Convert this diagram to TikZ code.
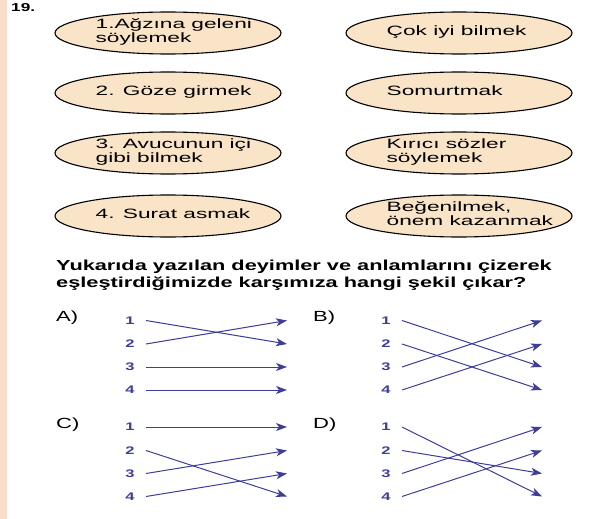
\documentclass[tikz,border=0pt]{standalone}
\usepackage{fontspec}
\setmainfont{Liberation Sans}
\usepackage{graphicx}
\usetikzlibrary{shapes.geometric,arrows.meta}
\definecolor{peach}{HTML}{FAE4C8}
\definecolor{stripc}{HTML}{FADCCB}
\definecolor{navy}{HTML}{3E3E98}
\newcommand\stx[1]{\scalebox{1.5}[1]{#1}}
\newcommand\tline[1]{\scalebox{1.68}[1]{\begin{tabular}{@{}l@{}}#1\end{tabular}}}
\begin{document}
\begin{tikzpicture}[x=1pt,y=-1pt,
  ell/.style={ellipse,draw=black,line width=1.1pt,fill=peach,minimum width=226pt,minimum height=42pt,inner sep=0pt},
  etxt/.style={anchor=west,inner sep=0pt,font=\fontsize{13.5}{14}\selectfont},
  qtxt/.style={anchor=west,inner sep=0pt,font=\bfseries\fontsize{14.5}{17}\selectfont},
  opt/.style={anchor=west,inner sep=0pt,font=\fontsize{14.7}{15}\selectfont},
  num/.style={inner sep=0pt,text=navy,font=\bfseries\fontsize{11}{11}\selectfont},
  arr/.style={draw=navy,line width=1pt,-{Stealth[length=11pt,width=8pt,inset=3pt]}}]
\useasboundingbox (0,0) rectangle (608,519);
\fill[stripc] (0,0) rectangle (7,519);
\node[anchor=west,inner sep=0pt,font=\bfseries\fontsize{11.5}{12}\selectfont] (q19) at (11,8) {\stx{19.}};
% ellipses
\foreach \i/\y in {1/33,2/93,3/153,4/216}{
  \node[ell] (l\i) at (168,\y) {};
  \node[ell] (r\i) at (459,\y) {};
}
\node[etxt] (lt1) at ([xshift=41pt]l1.west) {\tline{1.Ağzına geleni\\söylemek}};
\node[etxt] (lt2) at ([xshift=41pt]l2.west) {\tline{2. Göze girmek}};
\node[etxt] (lt3) at ([xshift=41pt]l3.west) {\tline{3. Avucunun içi\\gibi bilmek}};
\node[etxt] (lt4) at ([xshift=41pt]l4.west) {\tline{4. Surat asmak}};
\node[etxt] (rt1) at ([xshift=41pt]r1.west) {\tline{Çok iyi bilmek}};
\node[etxt] (rt2) at ([xshift=41pt]r2.west) {\tline{Somurtmak}};
\node[etxt] (rt3) at ([xshift=41pt]r3.west) {\tline{Kırıcı sözler\\söylemek}};
\node[etxt] (rt4) at ([xshift=41pt]r4.west) {\tline{Beğenilmek,\\önem kazanmak}};
% question
\node[qtxt] (q) at (56,275.5) {\stx{\begin{tabular}{@{}l@{}}Yukarıda yazılan deyimler ve anlamlarını çizerek\\eşleştirdiğimizde karşımıza hangi şekil çıkar?\end{tabular}}};
% option labels
\node[opt] (oa) at (56,318) {\stx{A)}};
\node[opt] (ob) at (313,318) {\stx{B)}};
\node[opt] (oc) at (56,425) {\stx{C)}};
\node[opt] (od) at (313,425) {\stx{D)}};
% panels
\foreach \pn/\nx/\sx/\ex/\yb in {a/130/146/287/320.5, b/386/402/542/320.5, c/130/146/287/427, d/386/402/542/427}{
  \foreach \i/\dy in {1/0,2/23.5,3/46.5,4/69.5}{
    \node[num] (\pn n\i) at (\nx,\yb+\dy) {\stx{\i}};
    \coordinate (\pn s\i) at (\sx,\yb+\dy);
    \coordinate (\pn e\i) at (\ex,\yb+\dy);
  }
}
\foreach \s/\t in {1/2,2/1,3/3,4/4} \draw[arr] (as\s) -- (ae\t);
\foreach \s/\t in {1/3,2/4,3/1,4/2} \draw[arr] (bs\s) -- (be\t);
\foreach \s/\t in {1/1,2/4,3/2,4/3} \draw[arr] (cs\s) -- (ce\t);
\foreach \s/\t in {1/4,2/3,3/1,4/2} \draw[arr] (ds\s) -- (de\t);
\end{tikzpicture}
\end{document}
